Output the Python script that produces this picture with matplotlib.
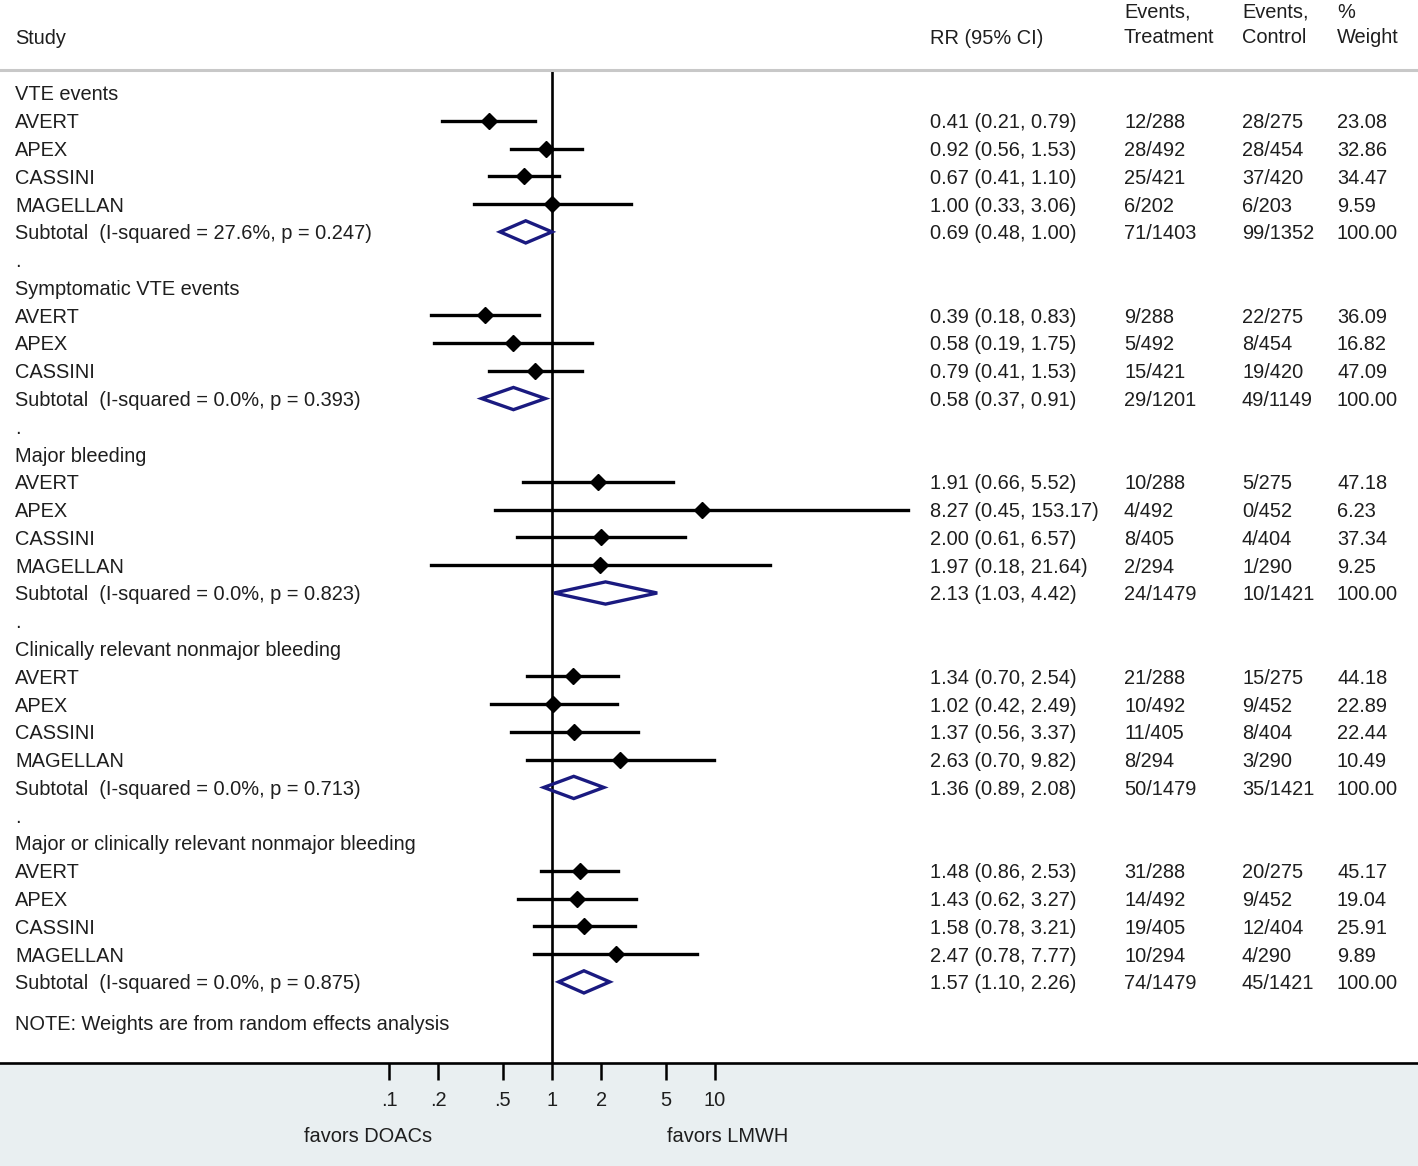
import matplotlib
matplotlib.use("Agg")
import matplotlib.pyplot as plt
from matplotlib.patches import Polygon, Rectangle

plt.rcParams['font.family'] = ['Liberation Sans', 'DejaVu Sans']

# outcome groups and their trials
groups = ["VTE events", "Symptomatic VTE events", "Major bleeding",
          "Clinically relevant nonmajor bleeding",
          "Major or clinically relevant nonmajor bleeding"]
studies = [["AVERT", "APEX", "CASSINI", "MAGELLAN"],
           ["AVERT", "APEX", "CASSINI"],
           ["AVERT", "APEX", "CASSINI", "MAGELLAN"],
           ["AVERT", "APEX", "CASSINI", "MAGELLAN"],
           ["AVERT", "APEX", "CASSINI", "MAGELLAN"]]
rr = [[0.41, 0.92, 0.67, 1.00], [0.39, 0.58, 0.79], [1.91, 8.27, 2.00, 1.97],
      [1.34, 1.02, 1.37, 2.63], [1.48, 1.43, 1.58, 2.47]]
lo = [[0.21, 0.56, 0.41, 0.33], [0.18, 0.19, 0.41], [0.66, 0.45, 0.61, 0.18],
      [0.70, 0.42, 0.56, 0.70], [0.86, 0.62, 0.78, 0.78]]
hi = [[0.79, 1.53, 1.10, 3.06], [0.83, 1.75, 1.53], [5.52, 153.17, 6.57, 21.64],
      [2.54, 2.49, 3.37, 9.82], [2.53, 3.27, 3.21, 7.77]]
ev_treat = [["12/288", "28/492", "25/421", "6/202"], ["9/288", "5/492", "15/421"],
            ["10/288", "4/492", "8/405", "2/294"], ["21/288", "10/492", "11/405", "8/294"],
            ["31/288", "14/492", "19/405", "10/294"]]
ev_ctrl = [["28/275", "28/454", "37/420", "6/203"], ["22/275", "8/454", "19/420"],
           ["5/275", "0/452", "4/404", "1/290"], ["15/275", "9/452", "8/404", "3/290"],
           ["20/275", "9/452", "12/404", "4/290"]]
weight = [["23.08", "32.86", "34.47", "9.59"], ["36.09", "16.82", "47.09"],
          ["47.18", "6.23", "37.34", "9.25"], ["44.18", "22.89", "22.44", "10.49"],
          ["45.17", "19.04", "25.91", "9.89"]]

# pooled estimates
sub_rr = [0.69, 0.58, 2.13, 1.36, 1.57]
sub_lo = [0.48, 0.37, 1.03, 0.89, 1.10]
sub_hi = [1.00, 0.91, 4.42, 2.08, 2.26]
sub_i2 = ["27.6%", "0.0%", "0.0%", "0.0%", "0.0%"]
sub_p = ["0.247", "0.393", "0.823", "0.713", "0.875"]
sub_treat = ["71/1403", "29/1201", "24/1479", "50/1479", "74/1479"]
sub_ctrl = ["99/1352", "49/1149", "10/1421", "35/1421", "45/1421"]

ticks = [0.1, 0.2, 0.5, 1, 2, 5, 10]
tick_labels = [".1", ".2", ".5", "1", "2", "5", "10"]

W, H = 1418, 1166
fig = plt.figure(figsize=(W / 100, H / 100), dpi=100)
fig.patches.append(Rectangle((0, 0), 1, 103 / H, transform=fig.transFigure,
                             color="#e9eff1", zorder=-5))

ax = fig.add_axes([0, 103 / H, 1, (1063 - 70) / H])
ax.set_zorder(2)
ax.set_xscale("log")
ax.set_xlim(10 ** (-552 / 163), 10 ** ((W - 552) / 163))
ax.set_ylim(34.92, -0.828)
ax.patch.set_alpha(0)
for s in ["left", "right"]:
    ax.spines[s].set_visible(False)
ax.spines["top"].set_color("#c8c8c8")
ax.spines["top"].set_linewidth(2.2)
ax.spines["bottom"].set_linewidth(1.9)
ax.set_yticks([])
ax.set_xticks(ticks)
ax.set_xticklabels(tick_labels)
ax.minorticks_off()
ax.tick_params(axis="x", direction="out", length=12, width=1.8, pad=8,
               labelsize=14.4, labelcolor="#1e1e1e")
ax.axvline(1, color="black", lw=1.9, zorder=1)

fs = 14.4
tc = "#1e1e1e"
cols = [930, 1124, 1242, 1337]
dy = 0.07


def row_text(y, label, rrtxt, t, c, w):
    ax.text(15 / W, y + dy, label, transform=ax.get_yaxis_transform(), fontsize=fs,
            va="center", color=tc)
    for x, s in zip(cols, [rrtxt, t, c, w]):
        ax.text(x / W, y + dy, s, transform=ax.get_yaxis_transform(), fontsize=fs,
                va="center", color=tc)


row = 0
for g in range(len(groups)):
    ax.text(15 / W, row + dy, groups[g], transform=ax.get_yaxis_transform(),
            fontsize=fs, va="center", color=tc)
    row += 1
    for i in range(len(studies[g])):
        ax.plot([lo[g][i], hi[g][i]], [row, row], color="black", lw=2.4, zorder=3)
        ax.plot(rr[g][i], row, marker="D", color="black", ms=8, zorder=4)
        row_text(row, studies[g][i],
                 "%.2f (%.2f, %.2f)" % (rr[g][i], lo[g][i], hi[g][i]),
                 ev_treat[g][i], ev_ctrl[g][i], weight[g][i])
        row += 1
    dia = Polygon([[sub_lo[g], row], [sub_rr[g], row - 0.4], [sub_hi[g], row],
                   [sub_rr[g], row + 0.4]], closed=True, fill=False,
                  edgecolor="#1a1a80", lw=2.4, zorder=4)
    ax.add_patch(dia)
    row_text(row, "Subtotal  (I-squared = %s, p = %s)" % (sub_i2[g], sub_p[g]),
             "%.2f (%.2f, %.2f)" % (sub_rr[g], sub_lo[g], sub_hi[g]),
             sub_treat[g], sub_ctrl[g], "100.00")
    row += 1
    if g < len(groups) - 1:
        ax.text(15 / W, row + dy, ".", transform=ax.get_yaxis_transform(),
                fontsize=fs, va="center", color=tc)
        row += 1

ax.text(15 / W, 33.48 + dy, "NOTE: Weights are from random effects analysis",
        transform=ax.get_yaxis_transform(), fontsize=fs, va="center", color=tc)

# header
fig.text(15 / W, 1 - 39 / H, "Study", fontsize=fs, va="center", color=tc)
fig.text(930 / W, 1 - 39 / H, "RR (95% CI)", fontsize=fs, va="center", color=tc)
fig.text(1124 / W, 1 - 25 / H, "Events,\nTreatment", fontsize=fs, va="center",
         color=tc, linespacing=1.45)
fig.text(1242 / W, 1 - 25 / H, "Events,\nControl", fontsize=fs, va="center",
         color=tc, linespacing=1.45)
fig.text(1337 / W, 1 - 25 / H, "%\nWeight", fontsize=fs, va="center",
         color=tc, linespacing=1.45)

fig.text(368 / W, 1 - 1136 / H, "favors DOACs", fontsize=fs, ha="center",
         va="center", color=tc)
fig.text(728 / W, 1 - 1136 / H, "favors LMWH", fontsize=fs, ha="center",
         va="center", color=tc)

fig.savefig("out.png", dpi=100)
